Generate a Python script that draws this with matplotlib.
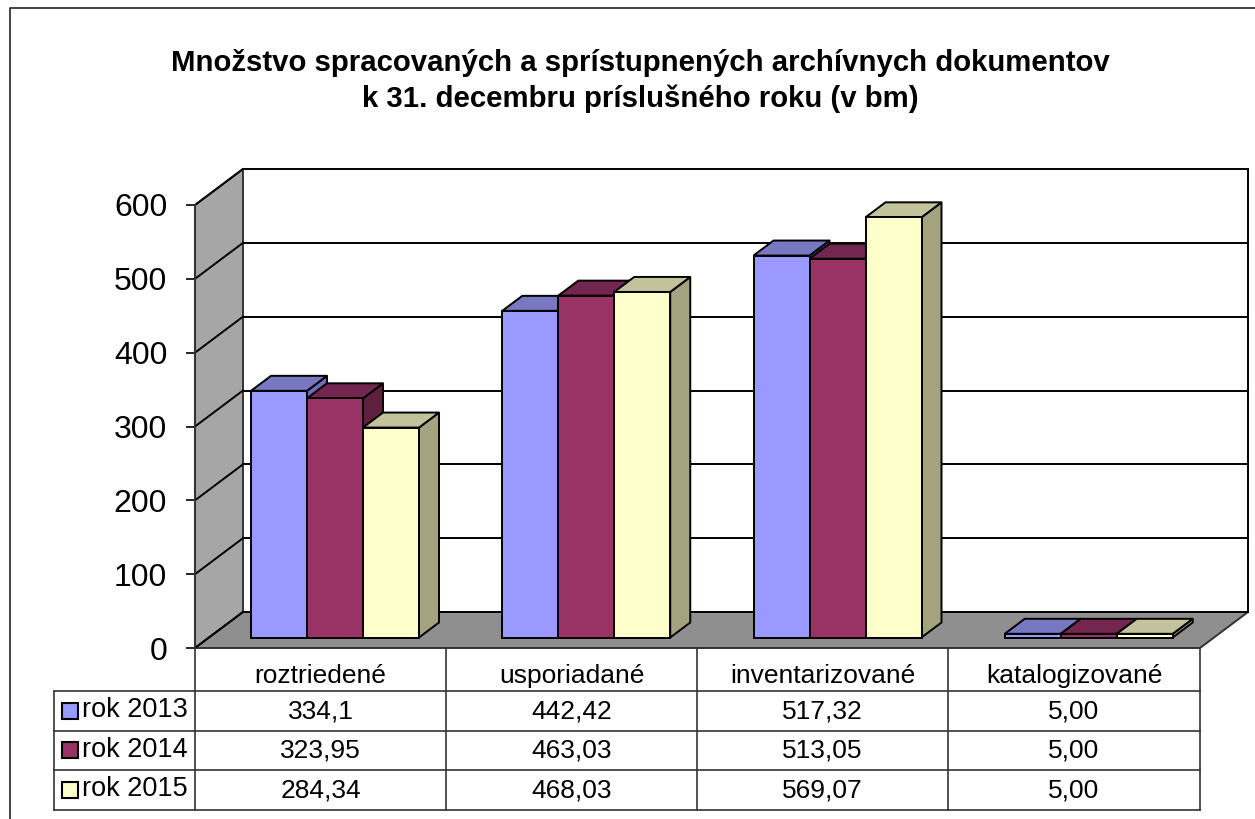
import numpy as np
import matplotlib
matplotlib.use('Agg')
import matplotlib.pyplot as plt
from matplotlib.patches import Rectangle

plt.rcParams['font.family'] = ['Liberation Sans', 'DejaVu Sans']

categories = ['roztriedené', 'usporiadané', 'inventarizované', 'katalogizované']
series_names = ['rok 2013', 'rok 2014', 'rok 2015']
vals_2013 = [334.1, 442.42, 517.32, 5.00]
vals_2014 = [323.95, 463.03, 513.05, 5.00]
vals_2015 = [284.34, 468.03, 569.07, 5.00]
text_2013 = ['334,1', '442,42', '517,32', '5,00']
text_2014 = ['323,95', '463,03', '513,05', '5,00']
text_2015 = ['284,34', '468,03', '569,07', '5,00']
yticks = [0, 100, 200, 300, 400, 500, 600]

front_col = ['#9999FF', '#993366', '#FFFFCC']
top_col = ['#7777C2', '#732650', '#C2C29B']
side_col = ['#6E6EB8', '#5F2040', '#A3A37F']

W, H = 1255, 819
fig = plt.figure(figsize=(W / 100, H / 100), dpi=100, facecolor='white')

# pixel layer for border and table
pg = fig.add_axes([0, 0, 1, 1])
pg.set_xlim(0, W)
pg.set_ylim(H, 0)
pg.axis('off')

# plot area = front plane of the 3d box
L, R, T, B = 195, 1200, 205, 648
ax = fig.add_axes([L / W, 1 - B / H, (R - L) / W, (B - T) / H])
ax.set_xlim(0, 4)
ax.set_ylim(0, 600)
ax.patch.set_visible(False)
for s in ['top', 'right', 'bottom']:
    ax.spines[s].set_visible(False)
ax.spines['left'].set_color('#333333')
ax.spines['left'].set_linewidth(1.5)
ax.set_xticks([])
ax.set_yticks(yticks)
ax.tick_params(axis='y', length=6.5, width=1.2, pad=13.5, labelsize=23)

px = 4 / (R - L)
py = 600 / (B - T)
wall_dx, wall_dy = 48 * px, 36 * py
bar_dx, bar_dy = 15 * px, 10.5 * py
depth_dx, depth_dy = 20 * px, 15 * py
bar_w = 56 * px
group_off = 41 * px
lw = 1.4

# walls
ax.fill([0, wall_dx, wall_dx, 0], [0, wall_dy, 600 + wall_dy, 600],
        fc='#A6A6A6', ec='#333333', lw=lw, clip_on=False, zorder=1)
ax.fill([0, 4, 4 + wall_dx, wall_dx], [0, 0, wall_dy, wall_dy],
        fc='#8F8F8F', ec='#333333', lw=lw, clip_on=False, zorder=1)
for t in yticks:
    ax.plot([wall_dx, 4 + wall_dx], [t + wall_dy, t + wall_dy], color='black', lw=lw, clip_on=False, zorder=1.5)
    ax.plot([0, wall_dx], [t, t + wall_dy], color='black', lw=lw, clip_on=False, zorder=1.5)
ax.plot([4 + wall_dx, 4 + wall_dx], [wall_dy, 600 + wall_dy], color='black', lw=lw, clip_on=False, zorder=1.5)

# bars, left to right so the next bar covers the side of the one before
z = 2
for i in range(len(categories)):
    for j, vals in enumerate([vals_2013, vals_2014, vals_2015]):
        x0 = i + group_off + bar_dx + j * bar_w
        x1 = x0 + bar_w
        y0 = bar_dy
        y1 = bar_dy + vals[i]
        ax.fill([x1, x1 + depth_dx, x1 + depth_dx, x1], [y0, y0 + depth_dy, y1 + depth_dy, y1],
                fc=side_col[j], ec='black', lw=lw, clip_on=False, zorder=z, joinstyle='round')
        ax.fill([x0, x0 + depth_dx, x1 + depth_dx, x1], [y1, y1 + depth_dy, y1 + depth_dy, y1],
                fc=top_col[j], ec='black', lw=lw, clip_on=False, zorder=z)
        ax.bar(x0, vals[i], bar_w, bottom=y0, align='edge', fc=front_col[j], ec='black', lw=lw,
               clip_on=False, zorder=z + 0.5)
        z += 1

# title
pg.text(640.5, 71, 'Množstvo spracovaných a sprístupnených archívnych dokumentov',
        ha='center', va='baseline', fontsize=21.2, fontweight='bold')
pg.text(640.5, 107, 'k 31. decembru príslušného roku (v bm)',
        ha='center', va='baseline', fontsize=21.2, fontweight='bold')

# data table
col_x = [195, 446, 697, 948, 1200]
row_y = [648, 691, 730.5, 770, 810]
leg_x = 54
edge = '#333333'
for x in col_x:
    pg.plot([x, x], [row_y[0], row_y[-1]], color=edge, lw=1.2)
pg.plot([leg_x, leg_x], [row_y[1], row_y[-1]], color=edge, lw=1.2)
for k, y in enumerate(row_y[1:]):
    pg.plot([leg_x, col_x[-1]], [y, y], color=edge, lw=1.2)
for i, c in enumerate(categories):
    pg.text((col_x[i] + col_x[i + 1]) / 2, 683, c, ha='center', va='baseline', fontsize=19)
rows = [text_2013, text_2014, text_2015]
for k, name in enumerate(series_names):
    yc = (row_y[k + 1] + row_y[k + 2]) / 2
    pg.add_patch(Rectangle((62, yc - 8), 16, 16, fc=front_col[k], ec='black', lw=1.5))
    pg.text(82, yc + 6.5, name, ha='left', va='baseline', fontsize=19.5)
    for i in range(4):
        pg.text((col_x[i] + col_x[i + 1]) / 2, yc + 7.5, rows[k][i], ha='center', va='baseline', fontsize=19)

# chart border
pg.plot([10, 10, W], [H, 8, 8], color='#222222', lw=1.2)

fig.savefig('out.png', dpi=100, facecolor='white')
